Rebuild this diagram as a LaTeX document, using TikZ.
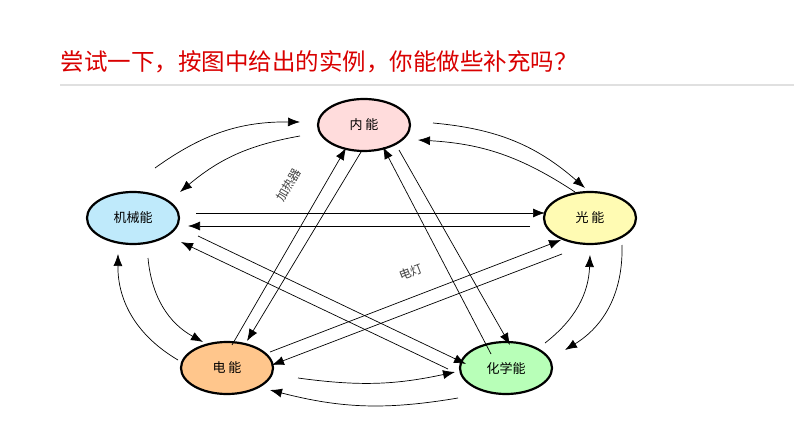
\documentclass[tikz,border=0pt]{standalone}
\usepackage{fontspec}
\newfontfamily\cjk{Noto Sans CJK SC}
\usetikzlibrary{arrows.meta,shapes.geometric}
\begin{document}
\begin{tikzpicture}[x=1pt,y=-1pt,
  en/.style={ellipse,draw,line width=2.2pt,minimum width=92pt,minimum height=52pt,inner sep=0pt,font=\cjk\fontsize{13}{13}\selectfont},
  ar/.style={-{Latex[length=12pt,width=9pt]},line width=0.7pt},
  lab/.style={font=\cjk\fontsize{12}{12}\selectfont,text=black!75}]
\useasboundingbox (0,0) rectangle (794,446);
\fill[white] (0,0) rectangle (794,446);
\node[anchor=west,text=red!85!black,font=\cjk\fontsize{23.5}{23.5}\selectfont] (title) at (57,62) {尝试一下，按图中给出的实例，你能做些补充吗？};
\draw[black!12,line width=1.5pt] (60,85) -- (794,85);
\node[en,fill=pink!55] (nei) at (364,125) {内 能};
\node[en,fill=cyan!25] (jx) at (133,218) {机械能};
\node[en,fill=yellow!30] (gu) at (590,218) {光 能};
\node[en,fill=orange!45] (di) at (227,368) {电 能};
\node[en,fill=green!28] (hx) at (506,368) {化学能};
% outer arcs
\coordinate (a1) at (155,168); \coordinate (a2) at (300,122);
\draw[ar] (a1) to[bend left=18] (a2);
\coordinate (b1) at (300,136); \coordinate (b2) at (180,192);
\draw[ar] (b1) to[bend right=15] (b2);
\coordinate (c1) at (433,123); \coordinate (c2) at (585,188);
\draw[ar] (c1) to[bend left=18] (c2);
\coordinate (d1) at (575,192); \coordinate (d2) at (418,140);
\draw[ar] (d1) to[bend right=15] (d2);
\coordinate (e1) at (622,245); \coordinate (e2) at (565,350);
\draw[ar] (e1) to[bend left=30] (e2);
\coordinate (f1) at (545,343); \coordinate (f2) at (590,255);
\draw[ar] (f1) to[bend right=25] (f2);
\coordinate (g1) at (458,398); \coordinate (g2) at (270,390);
\draw[ar] (g1) to[bend left=12] (g2);
\coordinate (h1) at (298,378); \coordinate (h2) at (455,372);
\draw[ar] (h1) to[bend right=10] (h2);
\coordinate (i1) at (178,360); \coordinate (i2) at (118,254);
\draw[ar] (i1) to[bend left=30] (i2);
\coordinate (j1) at (148,258); \coordinate (j2) at (203,342);
\draw[ar] (j1) to[bend right=28] (j2);
% straight
\coordinate (k1) at (196,213); \coordinate (k2) at (545,213);
\draw[ar] (k1) -- (k2);
\coordinate (l1) at (530,226); \coordinate (l2) at (188,226);
\draw[ar] (l1) -- (l2);
\coordinate (m1) at (198,236); \coordinate (m2) at (466,364);
\draw[ar] (m1) -- (m2);
\coordinate (n1) at (448,369); \coordinate (n2) at (181,242);
\draw[ar] (n1) -- (n2);
\coordinate (o1) at (270,352); \coordinate (o2) at (561,240);
\draw[ar] (o1) -- (o2);
\coordinate (p1) at (562,254); \coordinate (p2) at (272,365);
\draw[ar] (p1) -- (p2);
\coordinate (q1) at (232,345); \coordinate (q2) at (346,148);
\draw[ar] (q1) -- (q2);
\coordinate (r1) at (361,152); \coordinate (r2) at (247,341);
\draw[ar] (r1) -- (r2);
\coordinate (s1) at (491,354); \coordinate (s2) at (383,147);
\draw[ar] (s1) -- (s2);
\coordinate (t1) at (399,150); \coordinate (t2) at (510,345);
\draw[ar] (t1) -- (t2);
\node[lab,rotate=60] (jrq) at (289,185) {加热器};
\node[lab,rotate=21] (dd) at (411,272) {电灯};
\end{tikzpicture}
\end{document}
